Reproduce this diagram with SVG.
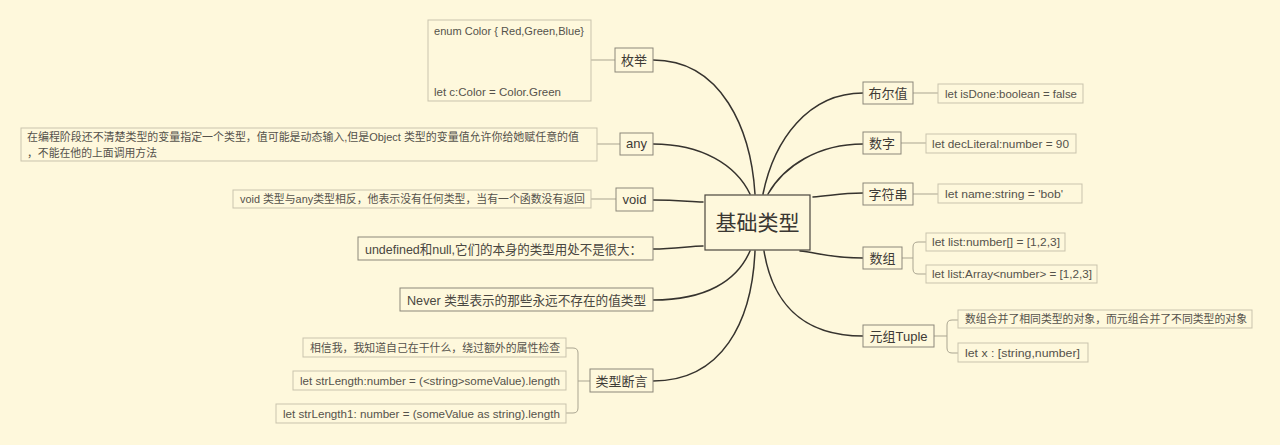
<svg xmlns="http://www.w3.org/2000/svg" width="1280" height="445" viewBox="0 0 1280 445">
<style>
text{font-family:"Liberation Sans","Noto Sans CJK SC",sans-serif;}
.bg{fill:#fef8dc;}
.topic{fill:#fef8dc;stroke:#8c877a;stroke-width:1;}
.leaf{fill:#fef8dc;stroke:#c9c3ad;stroke-width:1;}
.root{fill:#fef8dc;stroke:#4a463e;stroke-width:1.2;}
.tt{font-size:13px;fill:#3e3b36;}
.lt{font-size:11px;fill:#55524b;}
.bt{font-size:13px;fill:#4a4741;}
.rt{font-size:21px;fill:#3a3732;}
.main{fill:none;stroke:#36332e;stroke-width:1.5;stroke-linecap:round;}
.sub{fill:none;stroke:#aaa591;stroke-width:1;}
</style>
<rect class="bg" x="0" y="0" width="1280" height="445"/>
<g id="connectors">
<path class="main" d="M653,60 C722,60 751,130 755,194"/>
<path class="main" d="M653,144 C702,144 736,165 750,194"/>
<path class="main" d="M653,200 C680,200 690,202 703,202"/>
<path class="main" d="M653,249 C675,249 690,246 703,246"/>
<path class="main" d="M653,300 C706,300 737,281 750,251"/>
<path class="main" d="M653,381 C722,381 752,322 755,251"/>
<path class="main" d="M863,93 C808,93 774,140 763,194"/>
<path class="main" d="M863,144 C818,144 784,166 768,194"/>
<path class="main" d="M863,193 C840,193 830,196 813,197"/>
<path class="main" d="M863,258 C830,258 815,252 800,251"/>
<path class="main" d="M863,336 C800,336 772,300 764,251"/>
<path class="sub" d="M591,60 H615"/>
<path class="sub" d="M597,144 H620"/>
<path class="sub" d="M591,199 H616"/>
<path class="sub" d="M590,381 H578 M566,348 H573 Q578,348 578,353 V408 Q578,413 573,413 H566"/>
<path class="sub" d="M913,93 H938"/>
<path class="sub" d="M901,143 H926"/>
<path class="sub" d="M913,194 H938"/>
<path class="sub" d="M902,258 H913 M926,242 H918 Q913,242 913,247 V269 Q913,274 918,274 H926"/>
<path class="sub" d="M934,336 H947 M958,320 H952 Q947,320 947,325 V348 Q947,353 952,353 H958"/>
</g>
<g id="root">
<rect class="root" x="705" y="195" width="105" height="55"/>
<text class="rt" x="757.5" y="230" text-anchor="middle" textLength="84" lengthAdjust="spacingAndGlyphs">基础类型</text>
</g>
<g id="enum">
<rect class="topic" x="615" y="48" width="38" height="24"/>
<text class="tt" x="634" y="65" text-anchor="middle">枚举</text>
</g>
<g id="enum-leaf">
<rect class="leaf" x="428" y="20" width="163" height="81"/>
<text class="lt" x="434" y="35" textLength="150" lengthAdjust="spacingAndGlyphs">enum Color { Red,Green,Blue}</text>
<text class="lt" x="434" y="96" textLength="127" lengthAdjust="spacingAndGlyphs">let c:Color = Color.Green</text>
</g>
<g id="any">
<rect class="topic" x="620" y="133" width="33" height="22"/>
<text class="tt" x="636.5" y="148" text-anchor="middle">any</text>
</g>
<g id="any-leaf">
<rect class="leaf" x="21" y="128" width="576" height="33"/>
<text class="lt" x="27" y="141" textLength="552" lengthAdjust="spacingAndGlyphs">在编程阶段还不清楚类型的变量指定一个类型，值可能是动态输入,但是Object 类型的变量值允许你给她赋任意的值</text>
<text class="lt" x="27" y="157" textLength="130" lengthAdjust="spacingAndGlyphs">，不能在他的上面调用方法</text>
</g>
<g id="void">
<rect class="topic" x="616" y="188" width="37" height="23"/>
<text class="tt" x="634.5" y="204" text-anchor="middle">void</text>
</g>
<g id="void-leaf">
<rect class="leaf" x="233" y="190" width="358" height="18"/>
<text class="lt" x="240" y="203" textLength="345" lengthAdjust="spacingAndGlyphs">void 类型与any类型相反，他表示没有任何类型，当有一个函数没有返回</text>
</g>
<g id="undefined">
<rect class="topic" x="358" y="237" width="295" height="23"/>
<text class="bt" x="365" y="254" textLength="277" lengthAdjust="spacingAndGlyphs">undefined和null,它们的本身的类型用处不是很大：</text>
</g>
<g id="never">
<rect class="topic" x="400" y="288" width="253" height="23"/>
<text class="bt" x="407" y="305" textLength="239" lengthAdjust="spacingAndGlyphs">Never 类型表示的那些永远不存在的值类型</text>
</g>
<g id="assert">
<rect class="topic" x="590" y="369" width="63" height="23"/>
<text class="tt" x="621.5" y="386" text-anchor="middle">类型断言</text>
</g>
<g id="assert-leaf1">
<rect class="leaf" x="303" y="338" width="263" height="19"/>
<text class="lt" x="310" y="352" textLength="250" lengthAdjust="spacingAndGlyphs">相信我，我知道自己在干什么，绕过额外的属性检查</text>
</g>
<g id="assert-leaf2">
<rect class="leaf" x="293" y="371" width="273" height="19"/>
<text class="lt" x="300" y="385" textLength="260" lengthAdjust="spacingAndGlyphs">let strLength:number = (&lt;string&gt;someValue).length</text>
</g>
<g id="assert-leaf3">
<rect class="leaf" x="276" y="404" width="290" height="19"/>
<text class="lt" x="283" y="418" textLength="277" lengthAdjust="spacingAndGlyphs">let strLength1: number = (someValue as string).length</text>
</g>
<g id="bool">
<rect class="topic" x="863" y="82" width="50" height="22"/>
<text class="tt" x="888" y="98" text-anchor="middle">布尔值</text>
</g>
<g id="bool-leaf">
<rect class="leaf" x="938" y="84" width="145" height="19"/>
<text class="lt" x="945" y="98" textLength="132" lengthAdjust="spacingAndGlyphs">let isDone:boolean = false</text>
</g>
<g id="number">
<rect class="topic" x="863" y="132" width="38" height="22"/>
<text class="tt" x="882" y="148" text-anchor="middle">数字</text>
</g>
<g id="number-leaf">
<rect class="leaf" x="926" y="134" width="150" height="19"/>
<text class="lt" x="932" y="148" textLength="137" lengthAdjust="spacingAndGlyphs">let decLiteral:number = 90</text>
</g>
<g id="string">
<rect class="topic" x="863" y="183" width="50" height="22"/>
<text class="tt" x="888" y="199" text-anchor="middle">字符串</text>
</g>
<g id="string-leaf">
<rect class="leaf" x="938" y="184" width="144" height="19"/>
<text class="lt" x="945" y="198" textLength="118" lengthAdjust="spacingAndGlyphs">let name:string = 'bob'</text>
</g>
<g id="array">
<rect class="topic" x="863" y="247" width="39" height="22"/>
<text class="tt" x="882.5" y="263" text-anchor="middle">数组</text>
</g>
<g id="array-leaf1">
<rect class="leaf" x="926" y="233" width="139" height="18"/>
<text class="lt" x="932" y="246" textLength="128" lengthAdjust="spacingAndGlyphs">let list:number[] = [1,2,3]</text>
</g>
<g id="array-leaf2">
<rect class="leaf" x="926" y="265" width="171" height="18"/>
<text class="lt" x="932" y="278" textLength="160" lengthAdjust="spacingAndGlyphs">let list:Array&lt;number&gt; = [1,2,3]</text>
</g>
<g id="tuple">
<rect class="topic" x="863" y="325" width="71" height="22"/>
<text class="tt" x="898.5" y="341" text-anchor="middle">元组Tuple</text>
</g>
<g id="tuple-leaf1">
<rect class="leaf" x="958" y="310" width="294" height="18"/>
<text class="lt" x="965" y="323" textLength="282" lengthAdjust="spacingAndGlyphs">数组合并了相同类型的对象，而元组合并了不同类型的对象</text>
</g>
<g id="tuple-leaf2">
<rect class="leaf" x="958" y="343" width="130" height="19"/>
<text class="lt" x="965" y="357" textLength="115" lengthAdjust="spacingAndGlyphs">let x : [string,number]</text>
</g>
</svg>
